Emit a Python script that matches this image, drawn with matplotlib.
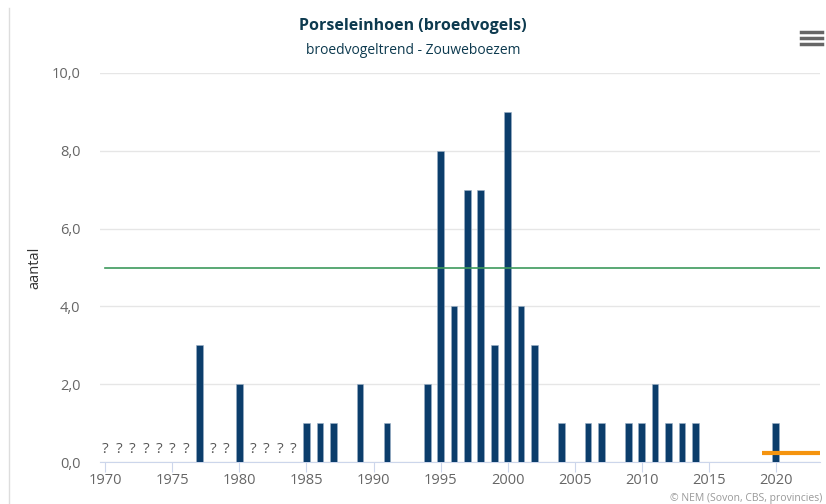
import matplotlib.pyplot as plt

years = [1977, 1980, 1985, 1986, 1987, 1989, 1991, 1994, 1995, 1996, 1997, 1998,
         1999, 2000, 2001, 2002, 2004, 2006, 2007, 2009, 2010, 2011, 2012, 2013,
         2014, 2020]
counts = [3, 2, 1, 1, 1, 2, 1, 2, 8, 4, 7, 7, 3, 9, 4, 3, 1, 1, 1, 1, 1, 2, 1, 1, 1, 1]
unknown_years = [1970, 1971, 1972, 1973, 1974, 1975, 1976, 1978, 1979,
                 1981, 1982, 1983, 1984]
mean_level = 5.0
recent_years = [2019, 2023.3]
recent_level = [0.23, 0.23]
xticks = [1970, 1975, 1980, 1985, 1990, 1995, 2000, 2005, 2010, 2015, 2020]
yticks = [0, 2, 4, 6, 8, 10]

plt.rcParams['font.family'] = ['Open Sans', 'DejaVu Sans']
fig = plt.figure(figsize=(8.26, 5.04), dpi=100)
ax = fig.add_axes([100/826, 42/504, 720/826, 389/504])

ax.bar(years, counts, width=0.5, color='#0b3d6b', edgecolor='#9bb0c6', linewidth=0.4, zorder=3)
ax.plot([1970, 2023.3], [mean_level, mean_level], color='#3d9a5c', lw=1.2, zorder=4)
ax.plot(recent_years, recent_level, color='#f5940f', lw=3, zorder=5, solid_capstyle='butt')
for y in unknown_years:
    ax.text(y, 0.12, '?', ha='center', va='bottom', fontsize=11, color='#555555', zorder=4)

ax.set_xlim(1969.6, 2023.3)
ax.set_ylim(0, 10)
ax.set_xticks(xticks)
ax.set_yticks(yticks)
ax.set_yticklabels([f'{v:.1f}'.replace('.', ',') for v in yticks])
ax.grid(axis='y', color='#e6e6e6', lw=1, zorder=0)
for s in ['top', 'right', 'left']:
    ax.spines[s].set_visible(False)
ax.spines['bottom'].set_color('#ccd6eb')
ax.tick_params(axis='x', length=7, pad=1, color='#ccd6eb', labelcolor='#666666', labelsize=10.5)
ax.tick_params(axis='y', length=0, pad=14, labelcolor='#666666', labelsize=10.5)
ax.set_ylabel('aantal', color='#333333', fontsize=10.5, labelpad=7)

fig.text(0.5, 0.94, 'Porseleinhoen (broedvogels)', ha='center', fontsize=11.5,
         fontweight='bold', color='#0d3a4f')
fig.text(0.5, 0.892, 'broedvogeltrend - Zouweboezem', ha='center', fontsize=10,
         color='#0d3a4f')
fig.text(0.995, 0.0, '© NEM (Sovon, CBS, provincies)', ha='right', va='bottom',
         fontsize=7.5, color='#999999')
# menu icon
for yy in [0.937, 0.925, 0.913]:
    fig.add_artist(plt.Line2D([0.97, 0.995], [yy, yy], color='#666666', lw=2.5))
# left border of the screenshot frame
fig.add_artist(plt.Line2D([0.011, 0.011], [0, 0.985], color='#dddddd', lw=1))

fig.savefig('out.png', dpi=100)
